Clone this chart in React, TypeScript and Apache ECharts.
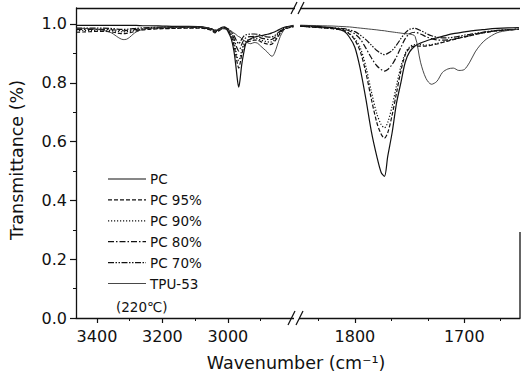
import React, { useEffect, useRef } from "react";
import * as echarts from "echarts";

// ---- data ----
const NAMES = ["PC", "PC 95%", "PC 90%", "PC 80%", "PC 70%", "TPU-53"];

const LEFT_WN = [3464, 3440, 3420, 3400, 3380, 3360, 3350, 3340, 3330, 3320, 3310, 3300, 3290, 3280, 3260, 3240, 3200, 3160, 3120, 3090, 3070, 3050, 3040, 3030, 3020, 3010, 3000, 2990, 2982, 2976, 2971, 2967, 2963, 2958, 2952, 2945, 2938, 2930, 2920, 2910, 2900, 2890, 2880, 2872, 2865, 2858, 2850, 2840, 2830, 2820, 2810, 2800];

const PC_L = [0.995, 0.995, 0.995, 0.995, 0.995, 0.995, 0.995, 0.995, 0.995, 0.995,
  0.995, 0.995, 0.995, 0.995, 0.994, 0.994, 0.993, 0.992, 0.992, 0.991,
  0.989, 0.983, 0.976, 0.98, 0.988, 0.99, 0.975, 0.95, 0.91, 0.86,
  0.81, 0.785, 0.81, 0.86, 0.9, 0.935, 0.945, 0.95, 0.955, 0.958,
  0.96, 0.962, 0.965, 0.967, 0.97, 0.973, 0.977, 0.983, 0.988, 0.991,
  0.993, 0.995];
const P95_L = [0.972, 0.973, 0.974, 0.975, 0.975, 0.974, 0.972, 0.97, 0.968, 0.967,
  0.968, 0.97, 0.973, 0.976, 0.98, 0.982, 0.984, 0.985, 0.986, 0.986,
  0.984, 0.978, 0.97, 0.975, 0.982, 0.984, 0.978, 0.96, 0.93, 0.895,
  0.865, 0.85, 0.865, 0.895, 0.92, 0.935, 0.94, 0.942, 0.945, 0.945,
  0.94, 0.935, 0.932, 0.93, 0.932, 0.94, 0.952, 0.968, 0.98, 0.985,
  0.988, 0.99];
const P90_L = [0.977, 0.978, 0.978, 0.979, 0.979, 0.978, 0.977, 0.975, 0.974, 0.973,
  0.974, 0.975, 0.977, 0.979, 0.982, 0.984, 0.985, 0.986, 0.987, 0.987,
  0.985, 0.98, 0.973, 0.977, 0.983, 0.985, 0.98, 0.965, 0.94, 0.91,
  0.885, 0.875, 0.885, 0.91, 0.93, 0.942, 0.946, 0.948, 0.95, 0.95,
  0.946, 0.942, 0.94, 0.938, 0.94, 0.946, 0.956, 0.97, 0.981, 0.986,
  0.989, 0.991];
const P80_L = [0.981, 0.982, 0.982, 0.982, 0.982, 0.981, 0.98, 0.979, 0.978, 0.977,
  0.978, 0.979, 0.98, 0.982, 0.984, 0.986, 0.987, 0.988, 0.988, 0.988,
  0.986, 0.982, 0.976, 0.979, 0.984, 0.986, 0.982, 0.97, 0.952, 0.93,
  0.915, 0.908, 0.915, 0.93, 0.945, 0.953, 0.956, 0.957, 0.958, 0.957,
  0.953, 0.95, 0.948, 0.947, 0.948, 0.953, 0.962, 0.974, 0.983, 0.987,
  0.99, 0.992];
const P70_L = [0.986, 0.986, 0.986, 0.986, 0.986, 0.985, 0.984, 0.983, 0.982, 0.982,
  0.982, 0.983, 0.984, 0.985, 0.987, 0.988, 0.989, 0.99, 0.99, 0.99,
  0.988, 0.984, 0.979, 0.982, 0.986, 0.988, 0.984, 0.975, 0.962, 0.948,
  0.938, 0.933, 0.938, 0.948, 0.958, 0.963, 0.965, 0.966, 0.966, 0.965,
  0.962, 0.958, 0.956, 0.955, 0.956, 0.96, 0.967, 0.977, 0.985, 0.989,
  0.991, 0.993];
const TPU_L = [0.985, 0.985, 0.984, 0.982, 0.978, 0.972, 0.966, 0.958, 0.951, 0.947,
  0.948, 0.955, 0.965, 0.973, 0.982, 0.985, 0.988, 0.989, 0.99, 0.99,
  0.988, 0.983, 0.978, 0.98, 0.984, 0.985, 0.98, 0.975, 0.97, 0.965,
  0.96, 0.957, 0.955, 0.95, 0.945, 0.94, 0.935, 0.933, 0.937, 0.935,
  0.925, 0.915, 0.905, 0.895, 0.89, 0.9, 0.925, 0.958, 0.978, 0.988,
  0.992, 0.995];

const RIGHT_WN = [1850, 1840, 1830, 1820, 1810, 1805, 1800, 1795, 1790, 1785, 1780, 1776, 1773, 1770, 1766, 1762, 1758, 1754, 1750, 1745, 1740, 1735, 1730, 1725, 1720, 1715, 1710, 1705, 1700, 1695, 1690, 1685, 1680, 1670, 1660, 1650];

const PC_R = [0.995, 0.994, 0.99, 0.987, 0.975, 0.955, 0.92, 0.845, 0.745, 0.635, 0.55, 0.495, 0.482, 0.55, 0.63, 0.73, 0.8, 0.87, 0.905, 0.925, 0.935, 0.942, 0.948, 0.953, 0.958, 0.963, 0.967, 0.97, 0.973, 0.976, 0.978, 0.98, 0.982, 0.985, 0.987, 0.988];
const P95_R = [0.993, 0.99, 0.987, 0.984, 0.978, 0.966, 0.945, 0.905, 0.835, 0.745, 0.665, 0.625, 0.612, 0.63, 0.69, 0.765, 0.84, 0.895, 0.918, 0.925, 0.925, 0.925, 0.928, 0.932, 0.937, 0.942, 0.947, 0.952, 0.956, 0.96, 0.965, 0.968, 0.972, 0.977, 0.98, 0.982];
const P90_R = [0.993, 0.99, 0.987, 0.984, 0.978, 0.968, 0.95, 0.918, 0.855, 0.77, 0.695, 0.658, 0.647, 0.665, 0.72, 0.79, 0.855, 0.9, 0.922, 0.93, 0.93, 0.928, 0.93, 0.934, 0.938, 0.943, 0.948, 0.953, 0.957, 0.961, 0.965, 0.969, 0.972, 0.977, 0.98, 0.982];
const P80_R = [0.993, 0.99, 0.988, 0.986, 0.982, 0.976, 0.966, 0.948, 0.918, 0.885, 0.858, 0.845, 0.84, 0.845, 0.862, 0.888, 0.92, 0.95, 0.967, 0.972, 0.966, 0.957, 0.95, 0.946, 0.945, 0.946, 0.948, 0.952, 0.956, 0.96, 0.965, 0.969, 0.972, 0.977, 0.98, 0.982];
const P70_R = [0.993, 0.991, 0.989, 0.987, 0.984, 0.98, 0.974, 0.962, 0.947, 0.928, 0.91, 0.9, 0.896, 0.9, 0.91, 0.928, 0.95, 0.97, 0.982, 0.985, 0.978, 0.968, 0.96, 0.955, 0.953, 0.953, 0.955, 0.958, 0.962, 0.965, 0.968, 0.971, 0.974, 0.978, 0.981, 0.983];
const TPU_R = [0.995, 0.995, 0.994, 0.993, 0.991, 0.99, 0.988, 0.986, 0.984, 0.982, 0.98, 0.978, 0.977, 0.975, 0.973, 0.971, 0.969, 0.967, 0.966, 0.958, 0.87, 0.815, 0.795, 0.805, 0.835, 0.847, 0.85, 0.842, 0.845, 0.87, 0.905, 0.93, 0.948, 0.97, 0.978, 0.983];

const LEFT_SERIES = [PC_L, P95_L, P90_L, P80_L, P70_L, TPU_L];
const RIGHT_SERIES = [PC_R, P95_R, P90_R, P80_R, P70_R, TPU_R];

const Y_TICKS = [0, 0.2, 0.4, 0.6, 0.8, 1.0];
const Y_MINOR = [0.1, 0.3, 0.5, 0.7, 0.9];
const LEFT_TICKS = [3400, 3200, 3000];
const LEFT_MINOR = [3300, 3100, 2900];
const RIGHT_TICKS = [1800, 1700];
const RIGHT_MINOR = [1833.33, 1766.67, 1733.33, 1666.67];
const NOTE = "(220\u2103)";

// ---- styles ----
const FONT = "DejaVu Sans";
const INK = "#111";
const LINE_STYLES: any[] = [
  { color: "#111", width: 1.2, type: "solid" },
  { color: "#111", width: 1.2, type: [4, 2] },
  { color: "#111", width: 1.2, type: [1.2, 1.8] },
  { color: "#111", width: 1.2, type: [6, 2, 1.5, 2] },
  { color: "#111", width: 1.2, type: [6, 1.5, 1.5, 1.5, 1.5, 1.5] },
  { color: "#333", width: 0.9, type: "solid" },
];

const X0 = 76, X1 = 297, X2 = 520, YT = 8, YB = 318;

function buildOption(): any {
  const series: any[] = [];
  NAMES.forEach((name, i) => {
    series.push({
      name, type: "line", xAxisIndex: 0, yAxisIndex: 0, symbol: "none", smooth: 0.3,
      lineStyle: LINE_STYLES[i], itemStyle: { color: LINE_STYLES[i].color },
      data: LEFT_WN.map((w, k) => [w, LEFT_SERIES[i][k]]),
    });
    series.push({
      name, type: "line", xAxisIndex: 1, yAxisIndex: 2, symbol: "none", smooth: 0.3,
      lineStyle: LINE_STYLES[i], itemStyle: { color: LINE_STYLES[i].color },
      data: RIGHT_WN.map((w, k) => [w, RIGHT_SERIES[i][k]]),
    });
  });

  const axisLine = { show: true, lineStyle: { color: INK, width: 1.3 } };
  const label = { fontFamily: FONT, fontSize: 16, color: INK };
  const plain = (v: number) => String(v);

  const slash = (x1: number, y1: number, x2: number, y2: number) => ({
    type: "line", shape: { x1, y1, x2, y2 }, style: { stroke: INK, lineWidth: 1.2 }, z: 100,
  });

  const legendEls: any[] = [];
  NAMES.forEach((name, i) => {
    const y = 179 + i * 20.9;
    const ls = LINE_STYLES[i];
    legendEls.push({
      type: "line", shape: { x1: 108, y1: y, x2: 146, y2: y },
      style: { stroke: ls.color, lineWidth: ls.width, lineDash: Array.isArray(ls.type) ? ls.type : null },
    });
    legendEls.push({
      type: "text", x: 150, y,
      style: { text: name, fontFamily: FONT, fontSize: 13.5, fill: INK, verticalAlign: "middle" },
    });
  });

  return {
    animation: false,
    backgroundColor: "#fff",
    grid: [
      { left: X0, top: YT, width: X1 - X0, height: YB - YT },
      { left: X1, top: YT, width: X2 - X1, height: YB - YT },
    ],
    xAxis: [
      {
        gridIndex: 0, type: "value", inverse: true, min: 2789, max: 3464, position: "bottom",
        axisLine, splitLine: { show: false },
        axisTick: { show: true, length: 5, customValues: LEFT_TICKS, lineStyle: { color: INK, width: 1.2 } },
        axisLabel: { ...label, margin: 10, customValues: LEFT_TICKS, formatter: plain },
      },
      {
        gridIndex: 1, type: "value", inverse: true, min: 1649, max: 1853, position: "bottom",
        axisLine, splitLine: { show: false },
        axisTick: { show: true, length: 5, customValues: RIGHT_TICKS, lineStyle: { color: INK, width: 1.2 } },
        axisLabel: { ...label, margin: 10, customValues: RIGHT_TICKS, formatter: plain },
      },
      {
        gridIndex: 0, type: "value", inverse: true, min: 2789, max: 3464, position: "bottom",
        axisLine: { show: false }, splitLine: { show: false },
        axisTick: { show: true, length: 3, customValues: LEFT_MINOR, lineStyle: { color: INK, width: 1 } },
        axisLabel: { show: false },
      },
      {
        gridIndex: 1, type: "value", inverse: true, min: 1649, max: 1853, position: "bottom",
        axisLine: { show: false }, splitLine: { show: false },
        axisTick: { show: true, length: 3, customValues: RIGHT_MINOR, lineStyle: { color: INK, width: 1 } },
        axisLabel: { show: false },
      },
    ],
    yAxis: [
      {
        gridIndex: 0, type: "value", min: 0, max: 1.0544, position: "left",
        axisLine, splitLine: { show: false },
        axisTick: { show: true, length: 6, customValues: Y_TICKS, lineStyle: { color: INK, width: 1.2 } },
        axisLabel: { ...label, margin: 9, customValues: Y_TICKS, formatter: (v: number) => v.toFixed(1) },
      },
      {
        gridIndex: 0, type: "value", min: 0, max: 1.0544, position: "left",
        axisLine: { show: false }, splitLine: { show: false },
        axisTick: { show: true, length: 3, customValues: Y_MINOR, lineStyle: { color: INK, width: 1 } },
        axisLabel: { show: false },
      },
      {
        gridIndex: 1, type: "value", min: 0, max: 1.0544, show: false,
      },
    ],
    graphic: [
      // top frame with break
      { type: "line", shape: { x1: X0, y1: YT + 0.5, x2: 295, y2: YT + 0.5 }, style: { stroke: INK, lineWidth: 1.3 } },
      { type: "line", shape: { x1: 300, y1: YT + 0.5, x2: X2, y2: YT + 0.5 }, style: { stroke: INK, lineWidth: 1.3 } },
      slash(291, 14, 297, 2),
      slash(298, 14, 304, 2),
      // bottom axis break
      { type: "rect", shape: { x: 294, y: YB - 2, width: 5, height: 4 }, style: { fill: "#fff" }, z: 99 },
      slash(288, 325, 295, 311),
      slash(296, 325, 303, 311),
      // right edge fragment
      { type: "line", shape: { x1: 520, y1: 232, x2: 520, y2: YB }, style: { stroke: INK, lineWidth: 1.3 } },
      ...legendEls,
      {
        type: "text", x: 116, y: 307,
        style: { text: NOTE, fontFamily: FONT, fontSize: 13.5, fill: INK, verticalAlign: "middle" },
      },
      {
        type: "text", x: 296, y: 363,
        style: { text: "Wavenumber (cm\u207B\u00B9)", fontFamily: FONT, fontSize: 17.5, fill: INK, align: "center", verticalAlign: "middle" },
      },
      {
        type: "text", x: 17, y: 160, rotation: Math.PI / 2,
        style: { text: "Transmittance (%)", fontFamily: FONT, fontSize: 17.5, fill: INK, align: "center", verticalAlign: "middle" },
      },
    ],
    series,
  };
}

export default function App() {
  const ref = useRef<HTMLDivElement>(null);
  useEffect(() => {
    if (!ref.current) return;
    const chart = echarts.init(ref.current, null, { renderer: "svg" });
    chart.setOption(buildOption());
    return () => chart.dispose();
  }, []);
  return <div ref={ref} style={{ position: "absolute", left: 0, top: 0, width: 521, height: 381 }} />;
}
